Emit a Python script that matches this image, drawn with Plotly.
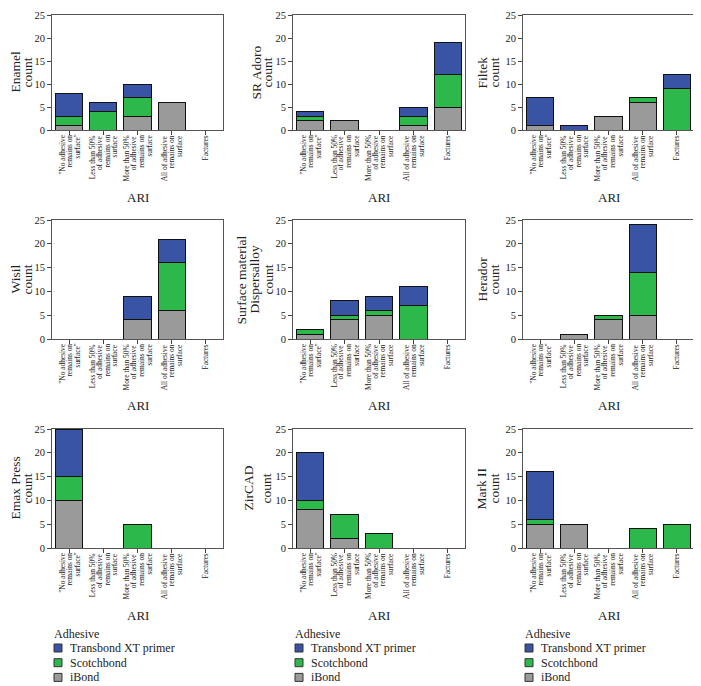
import plotly.graph_objects as go

categories = [
    '"No adhesive<br>remains on<br>surface"',
    'Less than 50%<br>of adhesive<br>remains on<br>surface',
    'More than 50%<br>of adhesive<br>remains on<br>surface',
    'All of adhesive<br>remains on<br>surface',
    'Factures',
]

panel_titles = [
    "Enamel<br>count", "SR Adoro<br>count", "Filtek<br>count",
    "Wisil<br>count", "Surface material<br>Dispersalloy<br>count", "Herador<br>count",
    "Emax Press<br>count", "ZirCAD<br>count", "Mark II<br>count",
]

x_title = "ARI"
legend_title = "Adhesive"

ibond = [
    [1, 0, 3, 6, 0],
    [2, 2, 0, 1, 5],
    [1, 0, 3, 6, 0],
    [0, 0, 4, 6, 0],
    [1, 4, 5, 0, 0],
    [0, 1, 4, 5, 0],
    [10, 0, 0, 0, 0],
    [8, 2, 0, 0, 0],
    [5, 5, 0, 0, 0],
]
scotchbond = [
    [2, 4, 4, 0, 0],
    [1, 0, 0, 2, 7],
    [0, 0, 0, 1, 9],
    [0, 0, 0, 10, 0],
    [1, 1, 1, 7, 0],
    [0, 0, 1, 9, 0],
    [5, 0, 5, 0, 0],
    [2, 5, 3, 0, 0],
    [1, 0, 0, 4, 5],
]
transbond = [
    [5, 2, 3, 0, 0],
    [1, 0, 0, 2, 7],
    [6, 1, 0, 0, 3],
    [0, 0, 5, 5, 0],
    [0, 3, 3, 4, 0],
    [0, 0, 0, 10, 0],
    [10, 0, 0, 0, 0],
    [10, 0, 0, 0, 0],
    [10, 0, 0, 0, 0],
]

series = [
    ("iBond", ibond, "#9a9a9a"),
    ("Scotchbond", scotchbond, "#2db84b"),
    ("Transbond XT primer", transbond, "#3953a5"),
]

# page body margin offsets the figure by 8px
OFF = 8
W, H = 701 - OFF, 686 - OFF


def px(xp):
    return (xp - OFF) / W


def py(yp):
    return 1 - (yp - OFF) / H


col_px = [(52, 223), (293, 465), (523, 694)]
row_px = [(15, 130), (220, 339), (429, 548)]
# x positions (screen px) of y-title lines per panel
ytitle_x = [
    [15, 27], [256, 267], [482, 494],
    [15, 27], [241, 254, 268], [482, 494],
    [15, 27], [248, 266], [481, 494],
]

FONT = "Liberation Serif"
TXT = "#222"
fig = go.Figure()
layout = dict(
    width=W, height=H, margin=dict(l=0, r=0, t=0, b=0),
    paper_bgcolor="white", plot_bgcolor="white",
    barmode="stack", showlegend=False, font=dict(family=FONT, color=TXT),
)
annotations = []
shapes = []

for i in range(9):
    r, c = divmod(i, 3)
    k = i + 1
    xa = "x" if k == 1 else f"x{k}"
    ya = "y" if k == 1 else f"y{k}"
    for name, data, color in series:
        vals = [v if v else None for v in data[i]]
        fig.add_trace(go.Bar(
            x=categories, y=vals, name=name, xaxis=xa, yaxis=ya,
            marker=dict(color=color, line=dict(color="#111", width=1)),
            width=0.8,
        ))
    x0, x1 = col_px[c]
    y0, y1 = row_px[r]
    layout["xaxis" if k == 1 else f"xaxis{k}"] = dict(
        domain=[px(x0), px(x1)], anchor=ya,
        type="category", categoryorder="array", categoryarray=categories,
        range=[-0.5, 4.5], showticklabels=False,
        ticks="outside", ticklen=4, tickcolor="#444",
        showline=True, linecolor="#555", linewidth=1, mirror=True,
        automargin=False,
    )
    layout["yaxis" if k == 1 else f"yaxis{k}"] = dict(
        domain=[py(y1), py(y0)], anchor=xa,
        range=[0, 25], tickvals=[0, 5, 10, 15, 20, 25],
        tickfont=dict(family=FONT, size=10.5, color=TXT),
        ticklabeloverflow="allow",
        ticks="outside", ticklen=4, tickcolor="#444",
        showline=True, linecolor="#555", linewidth=1, mirror=True,
        showgrid=False, zeroline=False, automargin=False,
    )
    # rotated category labels, one annotation per line
    for cat in categories:
        lines = cat.split("<br>")
        n = len(lines)
        for j, ln in enumerate(lines):
            annotations.append(dict(
                text=ln, xref=xa, yref=f"{ya} domain", x=cat, y=0,
                xshift=(j - (n - 1) / 2) * 7.4, yshift=-4,
                xanchor="center", yanchor="top", textangle=-90,
                showarrow=False, borderpad=0,
                font=dict(family=FONT, size=7.4, color=TXT),
            ))
    # y-axis title lines
    tl = panel_titles[i].split("<br>")
    for j, ln in enumerate(tl):
        annotations.append(dict(
            text=ln, xref="paper", yref="paper",
            x=px(ytitle_x[i][j]), y=py((y0 + y1) / 2),
            xanchor="center", yanchor="middle", textangle=-90,
            showarrow=False, borderpad=0,
            font=dict(family=FONT, size=13.5, color=TXT),
        ))
    # x-axis title
    annotations.append(dict(
        text=x_title, xref="paper", yref="paper",
        x=px((x0 + x1) / 2), y=py(y1 + 67),
        xanchor="center", yanchor="middle", showarrow=False, borderpad=0,
        font=dict(family=FONT, size=13, color=TXT),
    ))

# legends (one under each column)
legend_items = [(name, color) for name, _, color in reversed(series)]
for c in range(3):
    lx = col_px[c][0] + 1
    annotations.append(dict(
        text=legend_title, xref="paper", yref="paper",
        x=px(lx), y=py(634), xanchor="left", yanchor="middle",
        showarrow=False, borderpad=0,
        font=dict(family=FONT, size=12, color=TXT),
    ))
    for j, (name, color) in enumerate(legend_items):
        cy = 648 + j * 14.7
        shapes.append(dict(
            type="rect", xref="paper", yref="paper",
            x0=px(lx + 1), x1=px(lx + 9),
            y0=py(cy + 4), y1=py(cy - 4),
            fillcolor=color, line=dict(color="#333", width=1),
        ))
        annotations.append(dict(
            text=name, xref="paper", yref="paper",
            x=px(lx + 16), y=py(cy), xanchor="left", yanchor="middle",
            showarrow=False, borderpad=0,
            font=dict(family=FONT, size=12, color=TXT),
        ))

layout["annotations"] = annotations
layout["shapes"] = shapes
fig.update_layout(**layout)
fig.write_html("out.html")
